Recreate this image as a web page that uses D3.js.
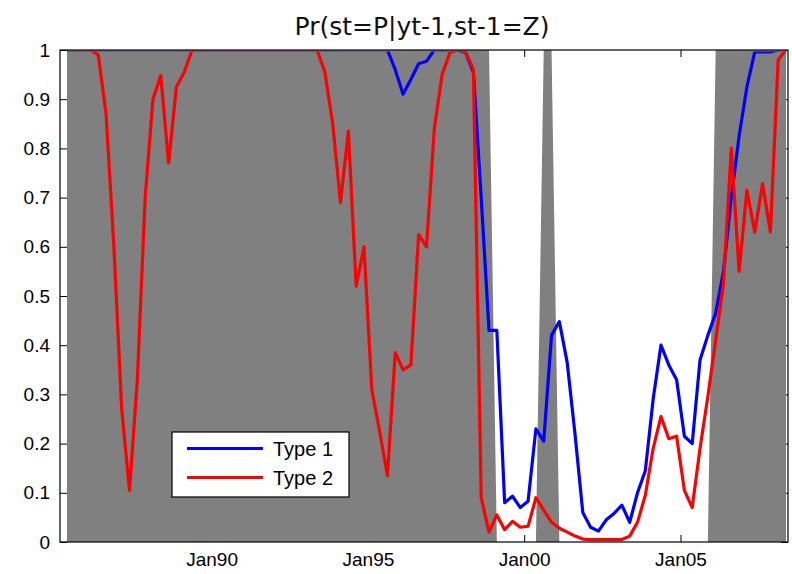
<!DOCTYPE html>
<html><head><meta charset="utf-8">
<script src="https://cdn.jsdelivr.net/npm/d3@7"></script>
<style>body{margin:0;background:#fff} svg{display:block}</style>
</head><body><svg id="chart" width="792" height="574"></svg>
<script>
// ---- data ----
const title = "Pr(st=P|yt-1,st-1=Z)";
const seriesNames = ["Type 1", "Type 2"];
const seriesColors = ["#0000ff", "#ff0000"];
const startYear = 1985, startQuarter = 2;   // first observation 1985Q2, quarterly
const type1 = [
  1, 1, 1,                    // 1985 Q2-Q4
  1, 1, 1, 1,                 // 1986
  1, 1, 1, 1,                 // 1987
  1, 1, 1, 1,                 // 1988
  1, 1, 1, 1,                 // 1989
  1, 1, 1, 1,                 // 1990
  1, 1, 1, 1,                 // 1991
  1, 1, 1, 1,                 // 1992
  1, 1, 1, 1,                 // 1993
  1, 1, 1, 1,                 // 1994
  1, 1, 1, 0.96,              // 1995
  0.91, 0.94, 0.972, 0.977,   // 1996
  1, 1, 1, 1,                 // 1997
  0.995, 0.955, 0.70, 0.43,   // 1998
  0.43, 0.08, 0.093, 0.07,    // 1999
  0.083, 0.23, 0.205, 0.42,   // 2000
  0.448, 0.365, 0.22, 0.06,   // 2001
  0.03, 0.022, 0.045, 0.058,  // 2002
  0.075, 0.04, 0.10, 0.145,   // 2003
  0.29, 0.40, 0.36, 0.33,     // 2004
  0.215, 0.20, 0.37, 0.42,    // 2005
  0.465, 0.55, 0.70, 0.825,   // 2006
  0.925, 0.996, 0.996, 0.996, // 2007
  1, 1                        // 2008 Q1-Q2
];
const type2 = [
  1, 1, 1,                    // 1985
  1, 0.99, 0.87, 0.60,        // 1986
  0.27, 0.105, 0.33, 0.70,    // 1987
  0.90, 0.948, 0.77, 0.925,   // 1988
  0.955, 1, 1, 1,             // 1989
  1, 1, 1, 1,                 // 1990
  1, 1, 1, 1,                 // 1991
  1, 1, 1, 1,                 // 1992
  1, 1, 0.955, 0.85,          // 1993
  0.69, 0.835, 0.52, 0.60,    // 1994
  0.31, 0.225, 0.135, 0.385,  // 1995
  0.35, 0.36, 0.625, 0.60,    // 1996
  0.84, 0.95, 0.995, 1,       // 1997
  0.995, 0.96, 0.09, 0.02,    // 1998
  0.055, 0.025, 0.042, 0.03,  // 1999
  0.032, 0.09, 0.065, 0.04,   // 2000
  0.028, 0.02, 0.012, 0.006,  // 2001
  0.005, 0.005, 0.005, 0.005, // 2002
  0.005, 0.012, 0.04, 0.095,  // 2003
  0.19, 0.255, 0.21, 0.215,   // 2004
  0.105, 0.07, 0.19, 0.295,   // 2005
  0.41, 0.525, 0.80, 0.55,    // 2006
  0.715, 0.63, 0.728, 0.63,   // 2007
  0.98, 1.0                   // 2008
];
// periods shaded grey (regime indicator = 1)
const shadedPeriods = [["1985Q2", "1998Q4"], ["2000Q3", "2000Q4"], ["2006Q1", "2008Q2"]];
const xTickYears = [1990, 1995, 2000, 2005];
const xTickLabels = ["Jan90", "Jan95", "Jan00", "Jan05"];
const yTicks = [0, 0.1, 0.2, 0.3, 0.4, 0.5, 0.6, 0.7, 0.8, 0.9, 1];
const yTickLabels = ["0", "0.1", "0.2", "0.3", "0.4", "0.5", "0.6", "0.7", "0.8", "0.9", "1"];
const xLimits = [1985.151, 2008.439];

// ---- layout ----
const L = 60, R = 788, T = 50, B = 542;
const svg = d3.select("#chart");
const x = d3.scaleLinear().domain(xLimits).range([L, R]);
const y = d3.scaleLinear().domain([0, 1]).range([B, T]);
const qTime = i => startYear + (startQuarter - 1) / 4 + i / 4 + 0.125;
const qIndex = s => (+s.slice(0, 4) - startYear) * 4 + (+s.slice(5) - startQuarter);

const n = type1.length;
const shade = d3.range(n).map(i => {
  const on = shadedPeriods.some(([a, b]) => i >= qIndex(a) && i <= qIndex(b));
  return { t: qTime(i), v: on ? 1 : 0 };
});

const font = "'Liberation Sans', Arial, sans-serif";

// plot background
svg.append("rect").attr("x", L).attr("y", T).attr("width", R - L).attr("height", B - T).attr("fill", "#fff");

// axes (ticks inside, drawn under the shading)
const tickStyle = g => {
  g.select(".domain").remove();
  g.selectAll(".tick line").attr("stroke", "#000").attr("stroke-width", 1);
  g.selectAll(".tick text").attr("fill", "#000").style("font-family", font).style("font-size", "19px");
};
svg.append("g").attr("transform", `translate(${L},0)`)
  .call(d3.axisLeft(y).tickValues(yTicks).tickSize(-7).tickPadding(10)
    .tickFormat((d, i) => yTickLabels[i]))
  .call(tickStyle);
svg.append("g").attr("transform", `translate(${R},0)`)
  .call(d3.axisRight(y).tickValues(yTicks).tickSize(-7).tickFormat(""))
  .call(tickStyle);
svg.append("g").attr("transform", `translate(0,${B})`)
  .call(d3.axisBottom(x).tickValues(xTickYears).tickSize(-7).tickPadding(11)
    .tickFormat((d, i) => xTickLabels[i]))
  .call(tickStyle);
svg.append("g").attr("transform", `translate(0,${T})`)
  .call(d3.axisTop(x).tickValues(xTickYears).tickSize(-7).tickFormat(""))
  .call(tickStyle);

// clip
svg.append("defs").append("clipPath").attr("id", "clip")
  .append("rect").attr("x", L + 0.5).attr("y", T + 1.6).attr("width", R - L - 1).attr("height", B - T - 1.6);

// grey regime shading
svg.append("path").datum(shade)
  .attr("fill", "#808080")
  .attr("d", d3.area().x(d => x(d.t)).y0(y(0)).y1(d => y(d.v)));

// lines
const lineGen = d3.line().x(d => x(d.t)).y(d => y(d.v));
const plotG = svg.append("g").attr("clip-path", "url(#clip)");
[type1, type2].forEach((s, k) => {
  plotG.append("path")
    .datum(s.map((v, i) => ({ t: qTime(i), v })))
    .attr("fill", "none").attr("stroke", seriesColors[k])
    .attr("stroke-width", 3.2).attr("stroke-linejoin", "round")
    .attr("d", lineGen);
});

// box
svg.append("rect").attr("x", L).attr("y", T).attr("width", R - L).attr("height", B - T)
  .attr("fill", "none").attr("stroke", "#000").attr("stroke-width", 1.2);

// title
svg.append("text").attr("x", (L + R) / 2 - 2).attr("y", 35).attr("text-anchor", "middle")
  .style("font-family", "'DejaVu Sans', sans-serif").style("font-size", "25px").attr("fill", "#111")
  .text(title);

// legend
const lg = svg.append("g");
lg.append("rect").attr("x", 172).attr("y", 432).attr("width", 177).attr("height", 65)
  .attr("fill", "#fff").attr("stroke", "#000").attr("stroke-width", 1.2);
seriesNames.forEach((name, k) => {
  const yy = 448.5 + k * 29;
  lg.append("line").attr("x1", 187).attr("x2", 263).attr("y1", yy).attr("y2", yy)
    .attr("stroke", seriesColors[k]).attr("stroke-width", 3);
  lg.append("text").attr("x", 273).attr("y", yy + 7).attr("fill", "#000")
    .style("font-family", font).style("font-size", "20px").text(name);
});
</script></body></html>
